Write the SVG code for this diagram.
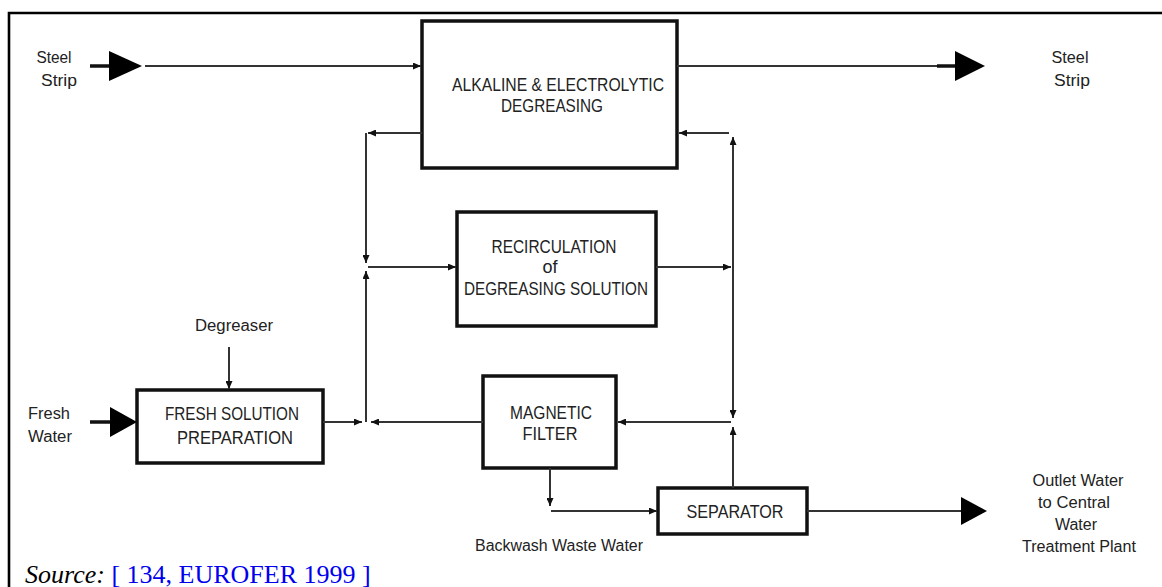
<svg xmlns="http://www.w3.org/2000/svg" width="1162" height="587" viewBox="0 0 1162 587">
<style>
.box{fill:#fff;stroke:#111;stroke-width:3.5}
.ln{fill:none;stroke:#333;stroke-width:2}
.thick{fill:none;stroke:#111;stroke-width:3.5}
.head{fill:#000}
.bt{font-family:"Liberation Sans",Arial,sans-serif;font-size:18px;fill:#222;text-anchor:middle}
.lb{font-family:"Liberation Sans",Arial,sans-serif;font-size:16px;fill:#222;text-anchor:middle}
.frame{stroke:#000;stroke-width:2.6;fill:none}
</style>
<defs>
<marker id="a" markerUnits="userSpaceOnUse" markerWidth="8" markerHeight="7" refX="8" refY="3.5" orient="auto">
<path d="M0,0 L8,3.5 L0,7 z" fill="#111"/>
</marker>
</defs>
<rect width="1162" height="587" fill="#fff"/>
<path class="frame" d="M9,587 V13 H1162"/>

<g id="alkaline">
<rect class="box" x="422" y="21" width="255" height="147"/>
<text class="bt" x="558" y="91" textLength="212" lengthAdjust="spacingAndGlyphs">ALKALINE &amp; ELECTROLYTIC</text>
<text class="bt" x="552" y="112" textLength="102" lengthAdjust="spacingAndGlyphs">DEGREASING</text>
</g>
<g id="recirculation">
<rect class="box" x="457" y="212" width="199" height="114"/>
<text class="bt" x="554" y="253" textLength="125" lengthAdjust="spacingAndGlyphs">RECIRCULATION</text>
<text class="bt" x="550" y="273">of</text>
<text class="bt" x="556" y="295" textLength="184" lengthAdjust="spacingAndGlyphs">DEGREASING SOLUTION</text>
</g>
<g id="fresh">
<rect class="box" x="137" y="390" width="186" height="73"/>
<text class="bt" x="232" y="420" textLength="134" lengthAdjust="spacingAndGlyphs">FRESH SOLUTION</text>
<text class="bt" x="235" y="444" textLength="116" lengthAdjust="spacingAndGlyphs">PREPARATION</text>
</g>
<g id="magnetic">
<rect class="box" x="483" y="376" width="133" height="92"/>
<text class="bt" x="551" y="419" textLength="82" lengthAdjust="spacingAndGlyphs">MAGNETIC</text>
<text class="bt" x="550" y="440" textLength="55" lengthAdjust="spacingAndGlyphs">FILTER</text>
</g>
<g id="separator">
<rect class="box" x="658" y="488" width="149" height="46"/>
<text class="bt" x="735" y="518" textLength="97" lengthAdjust="spacingAndGlyphs">SEPARATOR</text>
</g>

<g id="labels">
<text class="lb" x="54" y="63" textLength="35" lengthAdjust="spacingAndGlyphs">Steel</text>
<text class="lb" x="59" y="86" textLength="36" lengthAdjust="spacingAndGlyphs">Strip</text>
<text class="lb" x="1070" y="63" textLength="37" lengthAdjust="spacingAndGlyphs">Steel</text>
<text class="lb" x="1072" y="86" textLength="36" lengthAdjust="spacingAndGlyphs">Strip</text>
<text class="lb" x="49" y="419" textLength="42" lengthAdjust="spacingAndGlyphs">Fresh</text>
<text class="lb" x="50" y="442" textLength="44" lengthAdjust="spacingAndGlyphs">Water</text>
<text class="lb" x="234" y="331" textLength="78" lengthAdjust="spacingAndGlyphs">Degreaser</text>
<text class="lb" x="559" y="551" textLength="168" lengthAdjust="spacingAndGlyphs">Backwash Waste Water</text>
<text class="lb" x="1078" y="486" textLength="91" lengthAdjust="spacingAndGlyphs">Outlet Water</text>
<text class="lb" x="1074" y="508" textLength="72" lengthAdjust="spacingAndGlyphs">to Central</text>
<text class="lb" x="1076" y="530" textLength="42" lengthAdjust="spacingAndGlyphs">Water</text>
<text class="lb" x="1079" y="552" textLength="114" lengthAdjust="spacingAndGlyphs">Treatment Plant</text>
</g>

<g id="connectors">
<path class="thick" d="M90,66 H112"/>
<polygon class="head" points="109,51 142,66 109,81"/>
<path class="ln" d="M145,66 H421" marker-end="url(#a)"/>
<path class="ln" d="M677,66 H938"/>
<path class="thick" d="M937,66 H958"/>
<polygon class="head" points="955,51 985,66 955,81"/>
<path class="ln" d="M422,133 H368" marker-end="url(#a)"/>
<path class="ln" d="M366,133 V263" marker-end="url(#a)"/>
<path class="ln" d="M366,422 V271" marker-end="url(#a)"/>
<path class="ln" d="M368,267 H456" marker-end="url(#a)"/>
<path class="ln" d="M656,267 H731" marker-end="url(#a)"/>
<path class="ln" d="M733,267 V137" marker-end="url(#a)"/>
<path class="ln" d="M733,267 V418" marker-end="url(#a)"/>
<path class="ln" d="M729,133 H679" marker-end="url(#a)"/>
<path class="ln" d="M733,488 V427" marker-end="url(#a)"/>
<path class="ln" d="M731,422 H618" marker-end="url(#a)"/>
<path class="ln" d="M483,422 H371" marker-end="url(#a)"/>
<path class="ln" d="M323,422 H362" marker-end="url(#a)"/>
<path class="ln" d="M229,347 V389" marker-end="url(#a)"/>
<path class="ln" d="M550,468 V506" marker-end="url(#a)"/>
<path class="ln" d="M551,511 H657" marker-end="url(#a)"/>
<path class="ln" d="M807,511 H963"/>
<polygon class="head" points="961,497 987,511 961,525"/>
<path class="thick" d="M90,422 H112"/>
<polygon class="head" points="110,407 137,422 110,437"/>
</g>

<text x="25" y="583" font-family="'Liberation Serif','Times New Roman',serif" font-size="26" fill="#000"><tspan font-style="italic">Source:</tspan> <tspan fill="#0000ee">[ 134, EUROFER 1999 ]</tspan></text>
</svg>
